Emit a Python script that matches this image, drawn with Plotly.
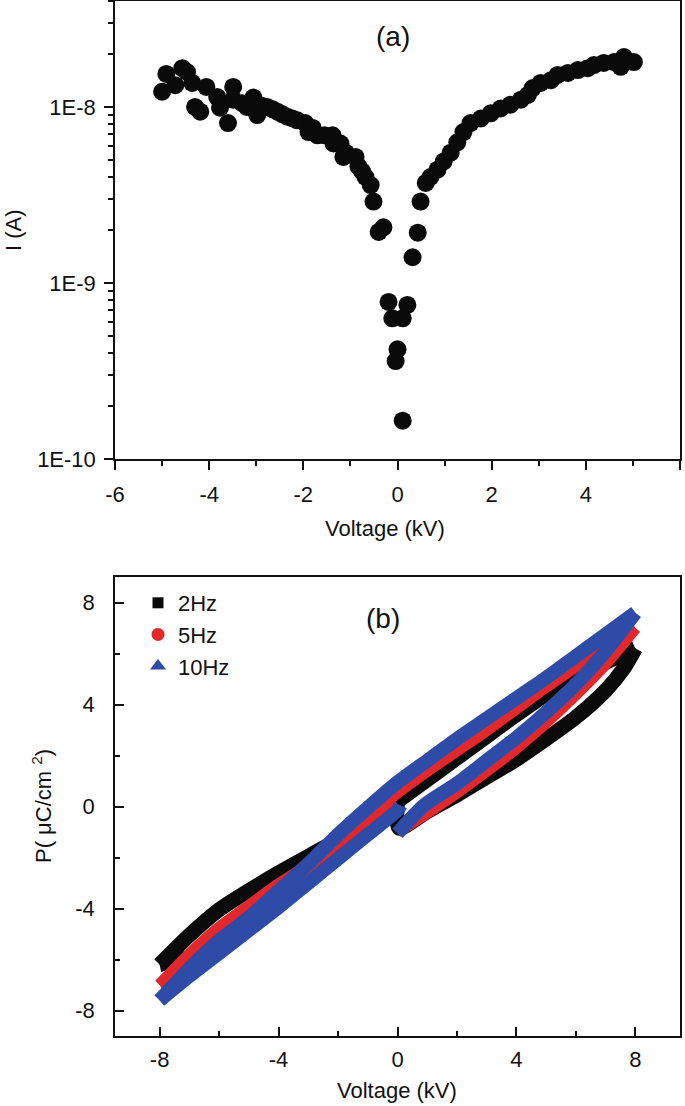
import plotly.graph_objects as go

# ---------------- Panel (a): I-V data ----------------
volt_a = [-5.0, -4.91, -4.72, -4.57, -4.47, -4.36, -4.30, -4.19, -4.06, -3.83, -3.77, -3.60,
          -3.49, -3.49, -3.30, -3.20, -3.06, -2.98, -2.90, -2.77, -2.65, -2.55, -2.45, -2.34,
          -2.23, -2.13, -1.96, -1.89, -1.80, -1.70, -1.55, -1.38, -1.36, -1.21, -1.15, -1.10,
          -0.89, -0.83, -0.75, -0.68, -0.57, -0.51, -0.40, -0.30, -0.19, -0.11, -0.04, 0.0,
          0.11, 0.11, 0.21, 0.32, 0.43, 0.49, 0.60, 0.70, 0.85, 0.98, 1.13, 1.27, 1.40, 1.55,
          1.77, 1.98, 2.19, 2.40, 2.62, 2.77, 2.87, 3.04, 3.26, 3.40, 3.62, 3.83, 4.04, 4.17,
          4.38, 4.60, 4.74, 4.81, 5.02]
current_a = [1.22e-8, 1.54e-8, 1.33e-8, 1.66e-8, 1.58e-8, 1.37e-8, 1.00e-8, 9.4e-9, 1.30e-8,
             1.14e-8, 9.9e-9, 8.1e-9, 1.30e-8, 1.10e-8, 1.05e-8, 1.00e-8, 1.13e-8, 9.0e-9,
             1.02e-8, 1.0e-8, 9.7e-9, 9.4e-9, 9.1e-9, 8.8e-9, 8.6e-9, 8.4e-9, 8.1e-9, 7.2e-9,
             7.6e-9, 6.9e-9, 6.9e-9, 6.9e-9, 6.2e-9, 6.2e-9, 5.2e-9, 5.5e-9, 5.2e-9, 4.6e-9,
             4.3e-9, 4.0e-9, 3.6e-9, 2.9e-9, 1.95e-9, 2.07e-9, 7.8e-10, 6.3e-10, 3.6e-10, 4.2e-10,
             6.3e-10, 1.65e-10, 7.5e-10, 1.4e-9, 1.93e-9, 2.9e-9, 3.7e-9, 4.0e-9, 4.4e-9, 4.9e-9,
             5.5e-9, 6.3e-9, 7.2e-9, 8.1e-9, 8.6e-9, 9.2e-9, 9.8e-9, 1.03e-8, 1.10e-8, 1.17e-8,
             1.28e-8, 1.37e-8, 1.42e-8, 1.52e-8, 1.56e-8, 1.62e-8, 1.66e-8, 1.73e-8, 1.78e-8,
             1.80e-8, 1.69e-8, 1.92e-8, 1.80e-8]
x_ticks_a = [-6, -4, -2, 0, 2, 4, 6]
x_ticktext_a = ["-6", "-4", "-2", "0", "2", "4", "6"]
y_ticks_a = [1e-10, 1e-9, 1e-8]
y_ticktext_a = ["1E-10", "1E-9", "1E-8"]

# ---------------- Panel (b): P-V hysteresis loops ----------------
# each loop: 0 -> +8 (rising), +8 -> -8 (falling), -8 -> 0 (rising)
series_names = ["2Hz", "5Hz", "10Hz"]
v_2hz = [0.0, 0.05, 1.0, 2.0, 3.0, 4.0, 5.0, 6.0, 7.0, 7.6, 8.0,
         7.0, 6.0, 5.0, 4.0, 3.0, 2.0, 1.0, 0.0, -1.0, -2.0, -3.0, -4.0, -5.0, -6.0, -7.0, -8.0,
         -7.0, -6.0, -5.0, -4.0, -3.0, -2.0, -1.0, 0.0]
p_2hz = [0.3, -0.85, -0.2, 0.45, 1.15, 1.85, 2.65, 3.5, 4.55, 5.4, 6.2,
         5.65, 5.05, 4.4, 3.6, 2.75, 1.9, 1.05, 0.2, -0.6, -1.3, -1.95, -2.6, -3.3, -4.05, -5.05, -6.2,
         -5.9, -5.2, -4.4, -3.5, -2.6, -1.7, -0.75, 0.3]
v_5hz = [0.0, 1.0, 2.0, 3.0, 4.0, 5.0, 6.0, 7.0, 8.0,
         7.0, 6.0, 5.0, 4.0, 3.0, 2.0, 1.0, 0.0, -1.0, -2.0, -3.0, -4.0, -5.0, -6.0, -7.0, -8.0,
         -7.0, -6.0, -5.0, -4.0, -3.0, -2.0, -1.0, 0.0]
p_5hz = [-1.0, -0.25, 0.55, 1.4, 2.3, 3.3, 4.4, 5.6, 7.0,
         6.3, 5.5, 4.7, 3.85, 3.0, 2.2, 1.4, 0.55, -0.4, -1.4, -2.3, -3.05, -3.9, -4.75, -5.8, -7.0,
         -6.3, -5.45, -4.55, -3.65, -2.75, -1.8, -0.9, 0.1]
v_10hz = [0.0, 0.9, 2.0, 3.0, 4.0, 5.0, 6.0, 7.0, 8.0,
          7.0, 6.0, 5.0, 4.0, 3.0, 2.0, 1.0, 0.0, -1.0, -2.0, -3.0, -4.0, -5.0, -6.0, -7.0, -8.0,
          -7.0, -6.0, -5.0, -4.0, -3.0, -2.0, -1.0, 0.0, 0.1]
p_10hz = [-1.05, 0.05, 0.9, 1.8, 2.7, 3.7, 4.8, 6.1, 7.6,
          6.75, 5.9, 5.05, 4.25, 3.45, 2.65, 1.8, 0.95, -0.05, -1.1, -2.25, -3.3, -4.35, -5.25, -6.35, -7.6,
          -6.65, -5.75, -4.85, -3.95, -3.0, -2.05, -1.1, -0.15, 0.05]
ticks_b = [-8, -4, 0, 4, 8]
ticktext_b = ["-8", "-4", "0", "4", "8"]
minor_b = [-6, -2, 2, 6]

W, H = 685, 1106
FONT = "Liberation Sans, Arial, Helvetica, sans-serif"


def fx(px):
    return px / W


def fy(py):
    return 1 - py / H


def branches(v, p):
    """Split a loop at its voltage turning points (so each branch can be smoothed)."""
    i_max = v.index(max(v))
    i_min = v.index(min(v))
    cuts = [(0, i_max), (i_max, i_min), (i_min, len(v) - 1)]
    return [(v[a:b + 1], p[a:b + 1]) for a, b in cuts]


fig = go.Figure()

fig.add_trace(go.Scatter(x=volt_a, y=current_a, mode="markers",
                         marker=dict(size=18, color="#0a0a0a", line=dict(width=0)),
                         xaxis="x", yaxis="y", showlegend=False))

colors = ["#0a0a0a", "#e2282a", "#2e4ba8"]
widths = [15, 12, 14]
symbols = ["square", "circle", "triangle-up"]
msizes = [11, 13, 14]
loops = [(v_2hz, p_2hz), (v_5hz, p_5hz), (v_10hz, p_10hz)]
for (v, p), c, w in zip(loops, colors, widths):
    for bv, bp in branches(v, p):
        fig.add_trace(go.Scatter(x=bv, y=bp, mode="lines",
                                 line=dict(color=c, width=w, shape="spline", smoothing=0.7),
                                 xaxis="x2", yaxis="y2", showlegend=False, hoverinfo="skip"))
for name, c, s, ms in zip(series_names, colors, symbols, msizes):
    fig.add_trace(go.Scatter(x=[None], y=[None], mode="markers", name=name,
                             marker=dict(symbol=s, color=c, size=ms),
                             xaxis="x2", yaxis="y2", showlegend=True))

axis_common = dict(showline=True, linecolor="#111", linewidth=1.5, mirror=True,
                   showgrid=False, zeroline=False, tickcolor="#111", tickwidth=1.5,
                   automargin=False,
                   tickfont=dict(size=22, color="#111", family=FONT))

minor_a_y = [k * 10.0 ** e for e in (-10, -9, -8) for k in range(2, 10) if k * 10.0 ** e < 4.1e-8]

fig.update_layout(
    width=W, height=H,
    margin=dict(l=0, r=0, t=0, b=0),
    paper_bgcolor="white", plot_bgcolor="white",
    font=dict(family=FONT, size=22, color="#111"),
    xaxis=dict(domain=[fx(115), fx(680)], range=[-6, 6], anchor="y",
               tickmode="array", tickvals=x_ticks_a, ticktext=x_ticktext_a,
               ticks="outside", ticklen=9, ticklabelstandoff=6,
               minor=dict(tickvals=[-5, -3, -1, 1, 3, 5], ticks="outside", ticklen=5,
                          tickcolor="#111", tickwidth=1.5),
               **axis_common),
    yaxis=dict(domain=[fy(459), fy(1)], type="log", range=[-10, -7.398], anchor="x",
               tickmode="array", tickvals=y_ticks_a, ticktext=y_ticktext_a,
               ticks="outside", ticklen=9, ticklabelstandoff=4,
               minor=dict(tickvals=minor_a_y, ticks="outside", ticklen=5,
                          tickcolor="#111", tickwidth=1.5),
               **axis_common),
    xaxis2=dict(domain=[fx(115), fx(680)], range=[-9.5, 9.5], anchor="y2",
                tickmode="array", tickvals=ticks_b, ticktext=ticktext_b,
                ticks="inside", ticklen=9, ticklabelstandoff=3,
                minor=dict(tickvals=minor_b, ticks="inside", ticklen=5,
                           tickcolor="#111", tickwidth=1.5),
                **axis_common),
    yaxis2=dict(domain=[fy(1036), fy(577)], range=[-9, 9], anchor="x2",
                tickmode="array", tickvals=ticks_b, ticktext=ticktext_b,
                ticks="inside", ticklen=9, ticklabelstandoff=14,
                minor=dict(tickvals=minor_b, ticks="inside", ticklen=5,
                           tickcolor="#111", tickwidth=1.5),
                **axis_common),
    legend=dict(x=fx(138), y=fy(582), xanchor="left", yanchor="top",
                bgcolor="rgba(0,0,0,0)", font=dict(size=22, family=FONT, color="#111"),
                itemsizing="trace", tracegroupgap=0),
    showlegend=True,
)

ann = [
    dict(text="(a)", x=fx(393), y=fy(37), font=dict(size=28)),
    dict(text="(b)", x=fx(383), y=fy(618), font=dict(size=28)),
    dict(text="Voltage (kV)", x=fx(385), y=fy(528), font=dict(size=22)),
    dict(text="Voltage (kV)", x=fx(397), y=fy(1090), font=dict(size=22)),
    dict(text="I (A)", x=fx(14), y=fy(230), textangle=-90, font=dict(size=22)),
    dict(text="P( μC/cm <sup>2</sup>)", x=fx(42), y=fy(806), textangle=-90, font=dict(size=22)),
]
for a in ann:
    fig.add_annotation(xref="paper", yref="paper", showarrow=False,
                       xanchor="center", yanchor="middle", **a)

fig.write_html(
    "out.html",
    config={"displayModeBar": False},
    post_script="document.body.style.margin='0';document.body.style.padding='0';"
                "document.documentElement.style.overflow='hidden';",
)
